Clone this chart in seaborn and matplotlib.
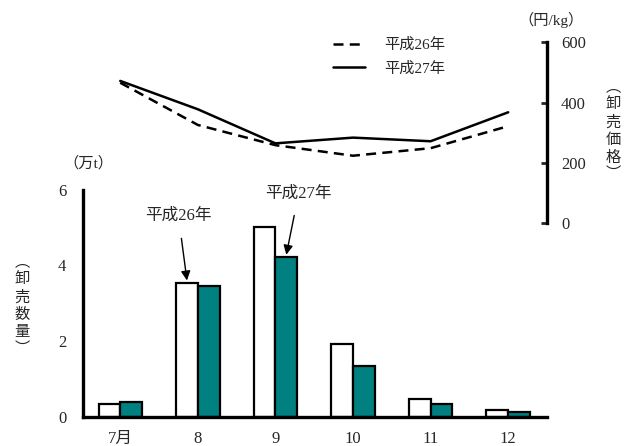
### Monthly wholesale volume and price ###

import pandas as pd
import matplotlib
matplotlib.use("Agg")
import matplotlib.pyplot as plt
import seaborn as sns

# data
months = ["7月", "8", "9", "10", "11", "12"]
years = ["平成26年", "平成27年"]
volume_h26 = [0.34, 3.54, 5.0, 1.93, 0.48, 0.18]   # 万t
volume_h27 = [0.40, 3.46, 4.22, 1.35, 0.33, 0.13]
price_h26 = [466, 326, 259, 224, 249, 322]          # 円/kg
price_h27 = [472, 378, 265, 284, 272, 368]

sns.set_theme(style="white")
plt.rcParams["font.family"] = ["Liberation Serif", "Noto Sans CJK JP"]

vol = pd.DataFrame({
    "month": months * 2,
    "year": [years[0]] * 6 + [years[1]] * 6,
    "volume": volume_h26 + volume_h27,
})
price = pd.DataFrame({
    "pos": list(range(6)) * 2,
    "year": [years[0]] * 6 + [years[1]] * 6,
    "price": price_h26 + price_h27,
})

W, H = 638, 446
fig = plt.figure(figsize=(W / 100, H / 100), dpi=100)
ax = fig.add_axes([83 / W, (H - 417) / H, (547 - 83) / W, (417 - 189.5) / H])
ax2 = fig.add_axes([83 / W, (H - 223.3) / H, (547 - 83) / W, (223.3 - 42.3) / H])
ax2.patch.set_alpha(0)

# bars
sns.barplot(data=vol, x="month", y="volume", hue="year", hue_order=years,
            palette=["white", "#008080"], edgecolor="black", linewidth=1.6,
            width=0.56, gap=0, legend=False, ax=ax, saturation=1)
ax.set_xlim(-0.48, 5.5)
ax.set_ylim(0, 6)
ax.set_yticks([0, 2, 4, 6])
ax.set_xlabel("")
ax.set_ylabel("")
for s in ["top", "right"]:
    ax.spines[s].set_visible(False)
for s in ["left", "bottom"]:
    ax.spines[s].set_linewidth(2.4)
    ax.spines[s].set_color("black")
ax.tick_params(axis="y", direction="in", length=4, width=2, labelsize=12, pad=12)
ax.tick_params(axis="x", length=0, labelsize=12, pad=10)
ax.text(0.011, 1.117, "（万t）", transform=ax.transAxes, ha="center", va="center",
        fontsize=11)
ax.text(-0.131, 0.49, "︵\n卸\n売\n数\n量\n︶", transform=ax.transAxes, ha="center",
        va="center", fontsize=11, linespacing=1.35)

# arrows pointing to the two years
ax.annotate("平成26年", xy=(0.86, 3.6), xytext=(0.75, 5.3), ha="center",
            va="center", fontsize=12,
            arrowprops=dict(arrowstyle="-|>", color="black", lw=1, shrinkA=8,
                            shrinkB=0, mutation_scale=14))
ax.annotate("平成27年", xy=(2.14, 4.28), xytext=(2.3, 5.9), ha="center",
            va="center", fontsize=12,
            arrowprops=dict(arrowstyle="-|>", color="black", lw=1, shrinkA=8,
                            shrinkB=0, mutation_scale=14))

# price lines
sns.lineplot(data=price, x="pos", y="price", style="year", style_order=years,
             dashes={years[0]: (4, 2.5), years[1]: ""}, color="black",
             linewidth=1.8, legend=False, ax=ax2)
ax2.set_xlim(-0.48, 5.5)
ax2.set_ylim(0, 600)
ax2.set_yticks([0, 200, 400, 600])
ax2.set_xticks([])
ax2.set_xlabel("")
ax2.set_ylabel("")
for s in ["top", "left", "bottom"]:
    ax2.spines[s].set_visible(False)
ax2.spines["right"].set_linewidth(2.4)
ax2.spines["right"].set_color("black")
ax2.yaxis.tick_right()
ax2.tick_params(axis="y", direction="in", length=4, width=2, labelsize=12, pad=10)
ax2.text(1.009, 1.123, "（円/kg）", transform=ax2.transAxes, ha="center",
         va="center", fontsize=11)
ax2.text(1.142, 0.51, "︵\n卸\n売\n価\n格\n︶", transform=ax2.transAxes, ha="center",
         va="center", fontsize=11, linespacing=1.35)

handles = ax2.get_lines()[:2]
ax2.legend(handles, years, loc="upper left", bbox_to_anchor=(0.51, 1.1),
           frameon=False, fontsize=11, handlelength=2.1, handletextpad=1.2,
           labelspacing=0.6)

fig.savefig("out.png", dpi=100)
